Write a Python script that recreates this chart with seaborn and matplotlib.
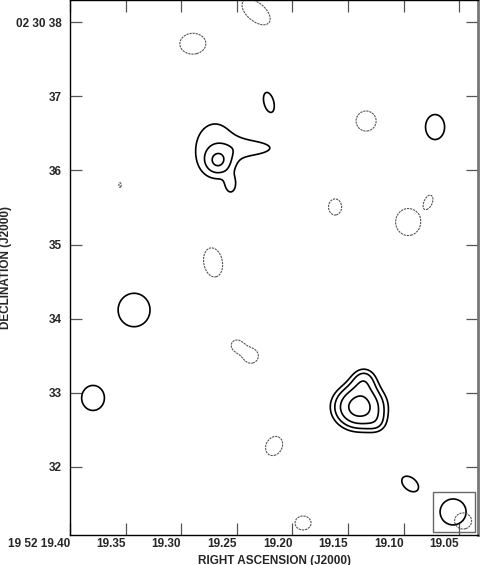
import numpy as np
import matplotlib
matplotlib.use("Agg")
import matplotlib.pyplot as plt
from matplotlib.patches import Ellipse, Rectangle
import seaborn as sns

# ------------------------------
# Source components
# RA in seconds past 19h52m, Dec in arcsec past +02d30m
# widths in arcsec, pa in degrees, peak in units of rms
# ------------------------------
src_ra = [19.1400, 19.1356, 19.1230,
          19.2669, 19.2696, 19.2255, 19.2552,
          19.2210, 19.0718, 19.3424, 19.3793, 19.0942,
          19.2894, 19.2327, 19.1338, 19.1617, 19.0960, 19.0772,
          19.3550, 19.2714, 19.2507, 19.2372, 19.2165, 19.1905, 19.0466]
src_dec = [32.809, 33.200, 32.567,
           36.126, 36.315, 36.301, 35.789,
           36.921, 36.584, 34.117, 32.931, 31.771,
           37.703, 38.135, 36.665, 35.506, 35.303, 35.590,
           35.802, 34.764, 33.645, 33.497, 32.283, 31.245, 31.272]
src_peak = [9.9, 3.5, 1.5,
            3.2, 3.6, 2.4, 1.9,
            3.7, 4.0, 4.0, 4.0, 4.0,
            -4.0, -4.0, -4.0, -4.0, -4.0, -3.8,
            -3.1, -4.0, -3.5, -4.0, -4.0, -4.0, -4.0]
src_sx = [0.252, 0.135, 0.110,
          0.121, 0.404, 0.297, 0.067,
          0.080, 0.169, 0.283, 0.202, 0.170,
          0.240, 0.297, 0.178, 0.116, 0.222, 0.050,
          0.067, 0.169, 0.094, 0.128, 0.142, 0.142, 0.151]
src_sy = [0.218, 0.135, 0.110,
          0.121, 0.512, 0.108, 0.108,
          0.169, 0.222, 0.297, 0.222, 0.110,
          0.195, 0.162, 0.178, 0.143, 0.240, 0.085,
          0.135, 0.270, 0.094, 0.128, 0.178, 0.124, 0.143]
src_pa = [0, 0, 0,
          0, 0, 0, 0,
          15, 0, 0, 0, -40,
          0, -40, 0, 0, 0, -20,
          0, 10, 0, 0, -30, 0, 0]

levels_pos = [3, 4.24, 6, 8.49]
levels_neg = [-3]

# restoring beam (centre, diameter in arcsec) and its box
beam_ra, beam_dec, beam_size = 19.0556, 31.394, 0.35
box_ra = [19.0736, 19.0358]
box_dec = [31.124, 31.663]

ra_ticks = [19.40, 19.35, 19.30, 19.25, 19.20, 19.15, 19.10, 19.05]
ra_labels = ["19 52 19.40", "19.35", "19.30", "19.25", "19.20", "19.15", "19.10", "19.05"]
dec_ticks = [38, 37, 36, 35, 34, 33, 32]
dec_labels = ["02 30 38", "37", "36", "35", "34", "33", "32"]

ra_lim = (19.40, 19.0332)
dec_lim = (31.083, 38.297)
sec_to_arcsec = 15 * np.cos(np.radians(2.5))

# ------------------------------
# Build the map
# ------------------------------
ra = np.linspace(ra_lim[1], ra_lim[0], 700)
dec = np.linspace(dec_lim[0], dec_lim[1], 900)
RA, DEC = np.meshgrid(ra, dec)
img = np.zeros_like(RA)
for r0, d0, a, sx, sy, pa in zip(src_ra, src_dec, src_peak, src_sx, src_sy, src_pa):
    u = -(RA - r0) * sec_to_arcsec
    v = DEC - d0
    t = np.radians(pa)
    up = u * np.cos(t) + v * np.sin(t)
    vp = -u * np.sin(t) + v * np.cos(t)
    img += a * np.exp(-0.5 * ((up / sx) ** 2 + (vp / sy) ** 2))

# ------------------------------
# Plot
# ------------------------------
sns.set_theme(style="ticks")
plt.rcParams["font.family"] = ["Liberation Sans Narrow", "Liberation Sans", "DejaVu Sans"]

fig = plt.figure(figsize=(4.8, 5.65), dpi=100)
ax = fig.add_axes([70 / 480, 30 / 565, 408 / 480, 535 / 565])

ax.contour(RA, DEC, img, levels=levels_pos, colors="black", linewidths=1.2,
           linestyles="solid")
ax.contour(RA, DEC, img, levels=levels_neg, colors="#555555", linewidths=0.8,
           linestyles=[(0, (2.0, 0.8))])

ax.add_patch(Rectangle((box_ra[1], box_dec[0]), box_ra[0] - box_ra[1],
                       box_dec[1] - box_dec[0], fill=False, ec="#666666", lw=1.0))
ax.add_patch(Ellipse((beam_ra, beam_dec), beam_size / sec_to_arcsec, beam_size,
                     fill=False, ec="black", lw=1.2))

ax.set_xlim(*ra_lim)
ax.set_ylim(*dec_lim)
ax.set_xticks(ra_ticks)
ax.set_xticklabels(ra_labels, fontweight="bold", fontsize=8.5, ha="right")
ax.set_yticks(dec_ticks)
ax.set_yticklabels(dec_labels, fontweight="bold", fontsize=8.5)
ax.tick_params(direction="in", length=8.6, width=0.9, color="#555555",
               top=True, right=True)
ax.tick_params(axis="x", pad=2.5)
ax.tick_params(axis="y", pad=6)
for s in ax.spines.values():
    s.set_color("black")
    s.set_linewidth(1.0)
ax.spines["right"].set_color("#777777")
ax.spines["right"].set_linewidth(2.0)

ax.set_xlabel("RIGHT ASCENSION (J2000)", fontweight="bold", fontsize=8.5)
ax.xaxis.set_label_coords(0.5, -0.0365)
ax.set_ylabel("DECLINATION (J2000)", fontweight="bold", fontsize=8.5)
ax.yaxis.set_label_coords(-0.142, 0.5)

fig.savefig("out.png", dpi=100)
